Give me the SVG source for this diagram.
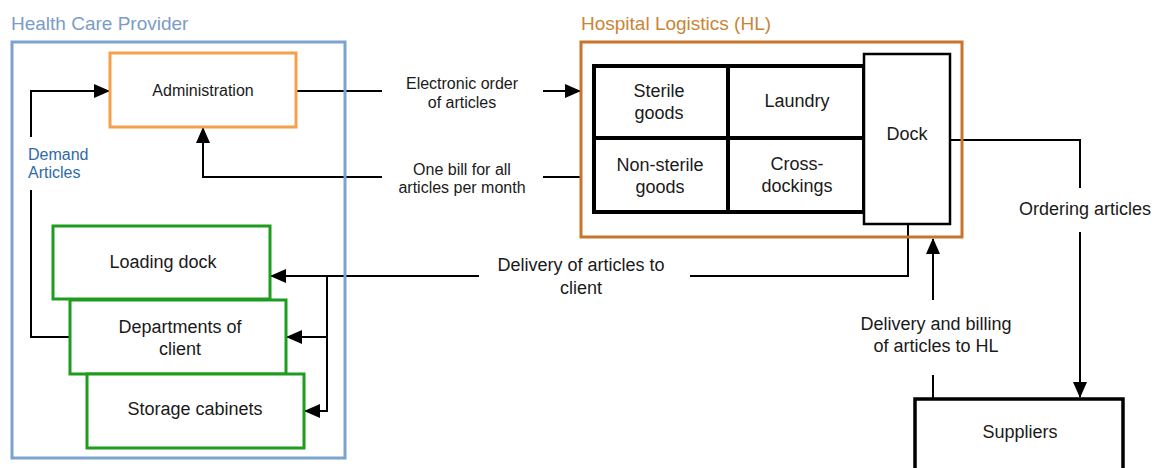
<svg xmlns="http://www.w3.org/2000/svg" width="1160" height="468" viewBox="0 0 1160 468">
  <style>
    text { font-family: "Liberation Sans", Arial, sans-serif; fill: #1a1a1a; text-anchor: middle; }
    .lbl { font-size: 16px; }
    .big { font-size: 18px; }
    .title { font-size: 19px; text-anchor: start; }
    .conn { fill: none; stroke: #000; stroke-width: 2; }
    .green { fill: #fff; stroke: #1e9c1e; stroke-width: 3; }
    .cell { fill: #fff; stroke: #000; stroke-width: 4; }
  </style>
  <defs>
    <marker id="arrow" markerUnits="userSpaceOnUse" markerWidth="16" markerHeight="14" refX="15" refY="7" orient="auto">
      <path d="M0,0 L16,7 L0,14 Z" fill="#000"/>
    </marker>
  </defs>

  <rect width="1160" height="468" fill="#fff"/>

  <!-- Connectors -->
  <g id="connectors">
    <!-- demand articles loop: departments back to administration -->
    <path class="conn" d="M70,337 H31 V190"/>
    <path class="conn" d="M31,137 V91 H109" marker-end="url(#arrow)"/>
    <!-- electronic order -->
    <path class="conn" d="M296,91 H382"/>
    <path class="conn" d="M543,91 H580" marker-end="url(#arrow)"/>
    <!-- monthly bill -->
    <path class="conn" d="M382,177 H203 V128" marker-end="url(#arrow)"/>
    <path class="conn" d="M543,177 H582"/>
    <!-- delivery to client -->
    <path class="conn" d="M908,224 V276 H690"/>
    <path class="conn" d="M479,276 H271" marker-end="url(#arrow)"/>
    <path class="conn" d="M327,276 V411 H305" marker-end="url(#arrow)"/>
    <path class="conn" d="M327,337 H287" marker-end="url(#arrow)"/>
    <!-- ordering articles -->
    <path class="conn" d="M950,140 H1080 V188"/>
    <path class="conn" d="M1080,232 V397" marker-end="url(#arrow)"/>
    <!-- delivery and billing to HL -->
    <path class="conn" d="M933,398 V375"/>
    <path class="conn" d="M933,300 V239" marker-end="url(#arrow)"/>
  </g>

  <!-- connector labels -->
  <g id="connector-labels">
    <text class="lbl" x="462" y="89">Electronic order</text>
    <text class="lbl" x="462" y="108">of articles</text>
    <text class="lbl" x="462" y="175">One bill for all</text>
    <text class="lbl" x="462" y="193">articles per month</text>
    <text class="big" x="581" y="271">Delivery of articles to</text>
    <text class="big" x="581" y="294">client</text>
    <text class="big" x="1085" y="215">Ordering articles</text>
    <text class="big" x="936" y="330">Delivery and billing</text>
    <text class="big" x="936" y="352">of articles to HL</text>
    <text x="28" y="160" style="font-size:16px;fill:#2f6aa8;text-anchor:start">Demand</text>
    <text x="28" y="178" style="font-size:16px;fill:#2f6aa8;text-anchor:start">Articles</text>
  </g>

  <!-- Health Care Provider container -->
  <g id="health-care-provider">
    <text class="title" x="11" y="30" style="fill:#7a9cc6">Health Care Provider</text>
    <rect x="12" y="42" width="333" height="416" fill="none" stroke="#7ba3cf" stroke-width="3"/>
  </g>

  <g id="administration">
    <rect x="110" y="53" width="186" height="74" fill="#fff" stroke="#f5a04a" stroke-width="3"/>
    <text class="lbl" x="203" y="96">Administration</text>
  </g>

  <g id="loading-dock">
    <rect class="green" x="53" y="226" width="217" height="73"/>
    <text class="big" x="163" y="268">Loading dock</text>
  </g>

  <g id="departments">
    <rect class="green" x="70" y="300" width="216" height="74"/>
    <text class="big" x="180" y="333">Departments of</text>
    <text class="big" x="180" y="355">client</text>
  </g>

  <g id="storage-cabinets">
    <rect class="green" x="87" y="374" width="217" height="74"/>
    <text class="big" x="195" y="415">Storage cabinets</text>
  </g>

  <!-- Hospital Logistics container -->
  <g id="hospital-logistics">
    <text class="title" x="581" y="30" style="fill:#c98537">Hospital Logistics (HL)</text>
    <rect x="581" y="42" width="381" height="195" fill="none" stroke="#c8742a" stroke-width="3"/>
  </g>

  <g id="sterile-goods">
    <rect class="cell" x="594" y="66" width="134" height="72"/>
    <text class="big" x="659" y="97">Sterile</text>
    <text class="big" x="659" y="119">goods</text>
  </g>

  <g id="laundry">
    <rect class="cell" x="728" y="66" width="136" height="72"/>
    <text class="big" x="797" y="107">Laundry</text>
  </g>

  <g id="non-sterile-goods">
    <rect class="cell" x="594" y="138" width="134" height="74"/>
    <text class="big" x="660" y="171">Non-sterile</text>
    <text class="big" x="660" y="193">goods</text>
  </g>

  <g id="cross-dockings">
    <rect class="cell" x="728" y="138" width="136" height="74"/>
    <text class="big" x="797" y="170">Cross-</text>
    <text class="big" x="797" y="192">dockings</text>
  </g>

  <g id="dock">
    <rect x="864" y="54" width="86" height="170" fill="#fff" stroke="#000" stroke-width="2.5"/>
    <text class="big" x="907" y="140">Dock</text>
  </g>

  <g id="suppliers">
    <rect x="915" y="399" width="208" height="80" fill="#fff" stroke="#000" stroke-width="3.5"/>
    <text class="big" x="1020" y="438">Suppliers</text>
  </g>
</svg>
